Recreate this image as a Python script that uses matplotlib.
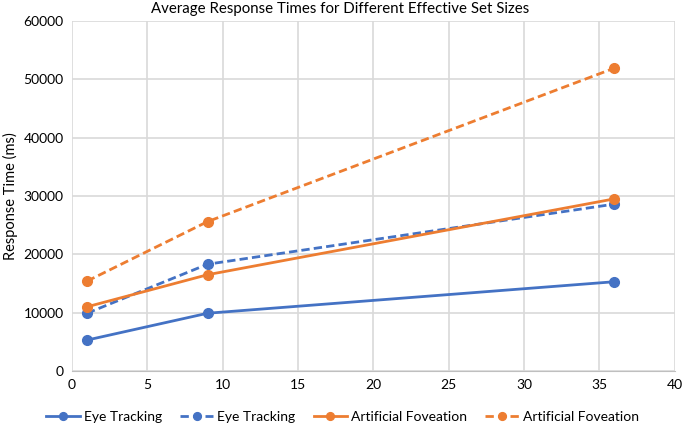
import matplotlib
matplotlib.use("Agg")
import matplotlib.pyplot as plt

plt.rcParams['font.family'] = ['Lato', 'DejaVu Sans']

set_sizes = [1, 9, 36]
et_solid = [5300, 9900, 15300]
et_dashed = [9900, 18300, 28600]
af_solid = [11000, 16500, 29500]
af_dashed = [15400, 25600, 51900]
labels = ["Eye Tracking", "Eye Tracking", "Artificial Foveation", "Artificial Foveation"]

blue = "#4472C4"
orange = "#ED7D31"

fig = plt.figure(figsize=(6.85, 4.25), dpi=100)
ax = fig.add_axes([0.105, 0.127, 0.88, 0.824])

kw = dict(marker='o', markersize=7, linewidth=2.0)
ax.plot(set_sizes, et_solid, color=blue, linestyle='-', label=labels[0], **kw)
ax.plot(set_sizes, et_dashed, color=blue, linestyle=(0, (3, 1.5)), label=labels[1], **kw)
ax.plot(set_sizes, af_solid, color=orange, linestyle='-', label=labels[2], **kw)
ax.plot(set_sizes, af_dashed, color=orange, linestyle=(0, (3, 1.5)), label=labels[3], **kw)

ax.set_xlim(0, 40)
ax.set_ylim(0, 60000)
ax.set_xticks(range(0, 41, 5))
ax.set_yticks(range(0, 60001, 10000))
ax.grid(True, color='#D9D9D9', linewidth=1.2)
ax.set_axisbelow(True)
for s in ['top', 'right', 'left']:
    ax.spines[s].set_visible(False)
ax.spines['bottom'].set_color('#BFBFBF')
ax.tick_params(length=0, labelsize=10, colors='#000000', pad=6)

fig.text(0.497, 0.978, "Average Response Times for Different Effective Set Sizes",
         fontsize=10.8, ha='center', va='center')
ax.set_ylabel("Response Time (ms)", fontsize=10.5)

fig.legend(loc='lower center', ncol=4, frameon=False, fontsize=10,
           bbox_to_anchor=(0.5, -0.025), handlelength=2.4, columnspacing=1.3,
           handletextpad=0.3, markerscale=0.8)

fig.savefig("out.png", dpi=100)
